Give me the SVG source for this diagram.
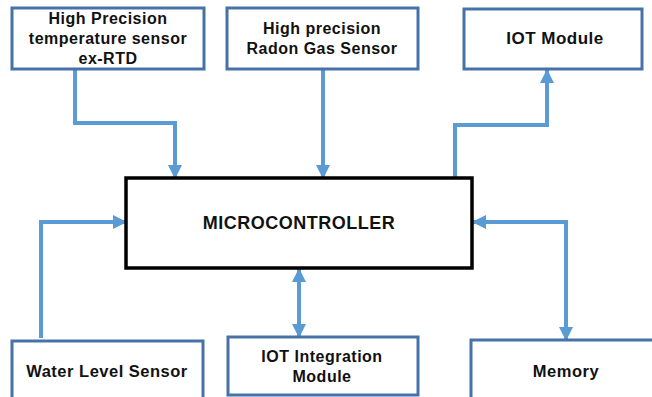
<svg xmlns="http://www.w3.org/2000/svg" width="652" height="397" viewBox="0 0 652 397">
<defs>
<style>
.box{fill:#ffffff;stroke:#4672a8;stroke-width:3}
.mcu{fill:#ffffff;stroke:#000000;stroke-width:3.5}
.lbl{font-family:"Liberation Sans",Arial,sans-serif;font-weight:bold;fill:#111111;text-anchor:middle;letter-spacing:0.5px}
.conn{fill:none;stroke:#5b9bd5;stroke-width:4}
</style>
<marker id="ah" markerUnits="userSpaceOnUse" markerWidth="14" markerHeight="14" refX="13" refY="7" orient="auto-start-reverse" viewBox="0 0 14 14">
<path d="M0,0 L14,7 L0,14 Z" fill="#5b9bd5"/>
</marker>
</defs>
<rect width="652" height="397" fill="#ffffff"/>
<g id="connectors">
<path class="conn" d="M75,69 V123 H175 V178" marker-end="url(#ah)"/>
<path class="conn" d="M323,69 V178" marker-end="url(#ah)"/>
<path class="conn" d="M455,178 V125 H547 V70" marker-end="url(#ah)"/>
<path class="conn" d="M41,338 V222 H126" marker-end="url(#ah)"/>
<path class="conn" d="M299,269 V337" marker-start="url(#ah)" marker-end="url(#ah)"/>
<path class="conn" d="M473,222 H566 V340" marker-start="url(#ah)" marker-end="url(#ah)"/>
</g>
<g id="temp-sensor">
<rect class="box" x="12" y="8" width="192" height="61"/>
<text class="lbl" font-size="16" x="108" y="24">High Precision</text>
<text class="lbl" font-size="16" x="108" y="44">temperature sensor</text>
<text class="lbl" font-size="16" x="108" y="64">ex-RTD</text>
</g>
<g id="radon-sensor">
<rect class="box" x="227" y="8" width="191" height="61"/>
<text class="lbl" font-size="16" x="322" y="34">High precision</text>
<text class="lbl" font-size="16" x="322" y="54">Radon Gas Sensor</text>
</g>
<g id="iot-module">
<rect class="box" x="464" y="9" width="178" height="60"/>
<text class="lbl" font-size="17" x="555" y="44">IOT Module</text>
</g>
<g id="microcontroller">
<rect class="mcu" x="126" y="178" width="346" height="90"/>
<text class="lbl" font-size="18" x="299" y="229">MICROCONTROLLER</text>
</g>
<g id="water-level-sensor">
<rect class="box" x="12" y="341" width="191" height="70"/>
<text class="lbl" font-size="16.5" x="107" y="377">Water Level Sensor</text>
</g>
<g id="iot-integration">
<rect class="box" x="228" y="337" width="190" height="58"/>
<text class="lbl" font-size="16" x="322" y="362">IOT Integration</text>
<text class="lbl" font-size="16" x="322" y="382">Module</text>
</g>
<g id="memory">
<rect class="box" x="471" y="340" width="200" height="70"/>
<text class="lbl" font-size="16.5" x="566" y="377">Memory</text>
</g>
</svg>
